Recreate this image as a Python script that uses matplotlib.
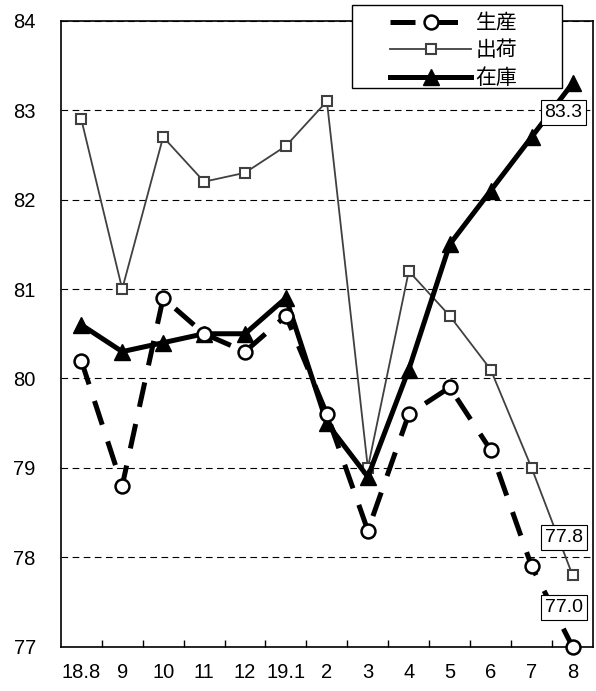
import matplotlib.pyplot as plt
from matplotlib.patches import Rectangle
from matplotlib.ticker import FixedLocator

plt.rcParams['font.family'] = ['Liberation Sans', 'Noto Sans CJK JP', 'DejaVu Sans']

months = ["18.8", "9", "10", "11", "12", "19.1", "2", "3", "4", "5", "6", "7", "8"]
seisan = [80.2, 78.8, 80.9, 80.5, 80.3, 80.7, 79.6, 78.3, 79.6, 79.9, 79.2, 77.9, 77.0]
shukka = [82.9, 81.0, 82.7, 82.2, 82.3, 82.6, 83.1, 79.0, 81.2, 80.7, 80.1, 79.0, 77.8]
zaiko = [80.6, 80.3, 80.4, 80.5, 80.5, 80.9, 79.5, 78.9, 80.1, 81.5, 82.1, 82.7, 83.3]

W, H = 596, 691
fig = plt.figure(figsize=(W / 100, H / 100), dpi=100)
ax = fig.add_axes([0.102, 0.064, 0.893, 0.906])

x = list(range(len(months)))

l2, = ax.plot(x, shukka, color="#404040", lw=1.3, marker="s", ms=7.5,
              mfc="white", mec="#404040", mew=1.5, zorder=3, clip_on=False)
l3, = ax.plot(x, zaiko, color="black", lw=3.6, marker="^", ms=11,
              mfc="black", mec="black", zorder=4, clip_on=False)
l1, = ax.plot(x, seisan, color="black", lw=3.6, ls=(0, (5, 3.5)), marker="o",
              ms=10, mfc="white", mec="black", mew=1.8, zorder=5,
              clip_on=False)

# data labels on the last month
bbox = dict(boxstyle="square,pad=0.2", fc="white", ec="black", lw=0.8)
ax.annotate(f"{zaiko[-1]:.1f}", (x[-1], zaiko[-1]), xytext=(-6.5, -21),
            textcoords="offset points", ha="center", va="center",
            fontsize=14, bbox=bbox, zorder=6)
ax.annotate(f"{shukka[-1]:.1f}", (x[-1], shukka[-1]), xytext=(-6, 27),
            textcoords="offset points", ha="center", va="center",
            fontsize=14, bbox=bbox, zorder=6)
ax.annotate(f"{seisan[-1]:.1f}", (x[-1], seisan[-1]), xytext=(-6, 28),
            textcoords="offset points", ha="center", va="center",
            fontsize=14, bbox=bbox, zorder=6)

ax.set_xlim(-0.5, len(months) - 0.5)
ax.set_ylim(77, 84)
ax.set_yticks(range(77, 85))
ax.set_xticks(x)
ax.set_xticklabels(months)
ax.xaxis.set_minor_locator(FixedLocator([i + 0.5 for i in x[:-1]]))
ax.tick_params(axis="x", which="major", length=0, pad=12, labelsize=14.5)
ax.tick_params(axis="x", which="minor", direction="in", length=5, width=1)
ax.tick_params(axis="y", length=0, pad=18, labelsize=14.5)
ax.yaxis.grid(True, ls=(0, (6, 4)), color="black", lw=0.8)
for s in ax.spines.values():
    s.set_linewidth(1.2)

# legend box (wider than the entries, like the original)
fig.patches.append(Rectangle((352 / W, 1 - 88 / H), 210 / W, 83 / H,
                             transform=fig.transFigure, fc="white",
                             ec="black", lw=1.0, zorder=4))
leg = fig.legend([l1, l2, l3], ["生産", "出荷", "在庫"],
                 loc="upper left", bbox_to_anchor=(390 / W, 1 - 14 / H),
                 fontsize=15, handlelength=3.9, labelspacing=0.37,
                 handletextpad=0.2, borderpad=0, borderaxespad=0,
                 frameon=False)
leg.set_zorder(5)

fig.savefig("out.png", dpi=100)
